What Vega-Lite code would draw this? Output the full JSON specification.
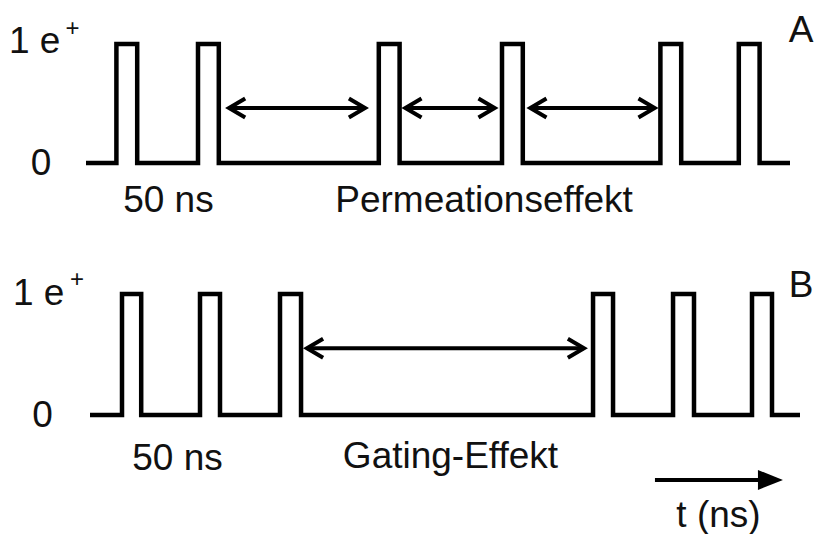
{
  "$schema": "https://vega.github.io/schema/vega-lite/v6.json",
  "background": "white",
  "padding": 0,
  "spacing": 0,
  "config": {"view": {"stroke": null}, "font": "Liberation Sans"},
  "vconcat": [
    {
      "width": 815,
      "height": 267,
      "layer": [
        {
          "data": {"values": [
            {"t": 0, "level": 0}, {"t": 19, "level": 1}, {"t": 32, "level": 0},
            {"t": 70, "level": 1}, {"t": 83, "level": 0},
            {"t": 183, "level": 1}, {"t": 196, "level": 0},
            {"t": 260, "level": 1}, {"t": 273, "level": 0},
            {"t": 359, "level": 1}, {"t": 372, "level": 0},
            {"t": 408, "level": 1}, {"t": 421, "level": 0},
            {"t": 440, "level": 0}
          ]},
          "mark": {"type": "line", "interpolate": "step-after", "color": "black", "strokeWidth": 4.5, "strokeJoin": "miter"},
          "encoding": {
            "x": {"field": "t", "type": "quantitative", "scale": {"domain": [-53.75, 455.625], "nice": false, "zero": false}, "axis": null},
            "y": {"field": "level", "type": "quantitative", "scale": {"domain": [-0.874, 1.37], "nice": false, "zero": false}, "axis": null}
          }
        },
        {
          "data": {"values": [
            {"t1": 89.4, "t2": 174.4, "level": 0.462},
            {"t1": 199.6, "t2": 255.4, "level": 0.462},
            {"t1": 277.7, "t2": 355.4, "level": 0.462}
          ]},
          "mark": {"type": "rule", "color": "black", "strokeWidth": 4},
          "encoding": {
            "x": {"field": "t1", "type": "quantitative", "scale": {"domain": [-53.75, 455.625], "nice": false, "zero": false}, "axis": null},
            "x2": {"field": "t2"},
            "y": {"field": "level", "type": "quantitative", "scale": {"domain": [-0.874, 1.37], "nice": false, "zero": false}, "axis": null}
          }
        },
        {
          "data": {"values": [
            {"t": 89.4, "level": 0.462, "dir": "left"}, {"t": 174.4, "level": 0.462, "dir": "right"},
            {"t": 199.6, "level": 0.462, "dir": "left"}, {"t": 255.4, "level": 0.462, "dir": "right"},
            {"t": 277.7, "level": 0.462, "dir": "left"}, {"t": 355.4, "level": 0.462, "dir": "right"}
          ]},
          "mark": {"type": "point", "filled": false, "stroke": "black", "strokeWidth": 4, "opacity": 1, "size": 361},
          "encoding": {
            "x": {"field": "t", "type": "quantitative", "scale": {"domain": [-53.75, 455.625], "nice": false, "zero": false}, "axis": null},
            "y": {"field": "level", "type": "quantitative", "scale": {"domain": [-0.874, 1.37], "nice": false, "zero": false}, "axis": null},
            "shape": {"field": "dir", "type": "nominal", "scale": {"domain": ["left", "right"], "range": ["M1.7,-1L0,0L1.7,1", "M-1.7,-1L0,0L-1.7,1"]}, "legend": null}
          }
        },
        {
          "data": {"values": [
            {"t": -32.1, "level": 0.924, "label": "1 e"},
            {"t": -28.1, "level": -0.101, "label": "0"},
            {"t": 51.5, "level": -0.409, "label": "50 ns"},
            {"t": 248.75, "level": -0.409, "label": "Permeationseffekt"},
            {"t": 447, "level": 1.017, "label": "A"}
          ]},
          "mark": {"type": "text", "fontSize": 37, "align": "center", "baseline": "alphabetic", "color": "#111111"},
          "encoding": {
            "x": {"field": "t", "type": "quantitative", "scale": {"domain": [-53.75, 455.625], "nice": false, "zero": false}, "axis": null},
            "y": {"field": "level", "type": "quantitative", "scale": {"domain": [-0.874, 1.37], "nice": false, "zero": false}, "axis": null},
            "text": {"field": "label"}
          }
        },
        {
          "data": {"values": [
            {"t": -8.4, "level": 1.067, "label": "+"}
          ]},
          "mark": {"type": "text", "fontSize": 24, "align": "center", "baseline": "alphabetic", "color": "#111111"},
          "encoding": {
            "x": {"field": "t", "type": "quantitative", "scale": {"domain": [-53.75, 455.625], "nice": false, "zero": false}, "axis": null},
            "y": {"field": "level", "type": "quantitative", "scale": {"domain": [-0.874, 1.37], "nice": false, "zero": false}, "axis": null},
            "text": {"field": "label"}
          }
        }
      ]
    },
    {
      "width": 815,
      "height": 267,
      "layer": [
        {
          "data": {"values": [
            {"t": 2.5, "level": 0}, {"t": 22.5, "level": 1}, {"t": 34.5, "level": 0},
            {"t": 71.25, "level": 1}, {"t": 83.75, "level": 0},
            {"t": 121.25, "level": 1}, {"t": 134.4, "level": 0},
            {"t": 316.9, "level": 1}, {"t": 329.4, "level": 0},
            {"t": 366.9, "level": 1}, {"t": 380, "level": 0},
            {"t": 416.25, "level": 1}, {"t": 428.75, "level": 0},
            {"t": 446.25, "level": 0}
          ]},
          "mark": {"type": "line", "interpolate": "step-after", "color": "black", "strokeWidth": 4.5, "strokeJoin": "miter"},
          "encoding": {
            "x": {"field": "t", "type": "quantitative", "scale": {"domain": [-53.75, 455.625], "nice": false, "zero": false}, "axis": null},
            "y": {"field": "level", "type": "quantitative", "scale": {"domain": [-1.0248, 1.1818], "nice": false, "zero": false}, "axis": null}
          }
        },
        {
          "data": {"values": [
            {"t1": 138.1, "t2": 311.25, "level": 0.551},
            {"t1": 355.6, "t2": 428, "level": -0.537}
          ]},
          "mark": {"type": "rule", "color": "black", "strokeWidth": 4},
          "encoding": {
            "x": {"field": "t1", "type": "quantitative", "scale": {"domain": [-53.75, 455.625], "nice": false, "zero": false}, "axis": null},
            "x2": {"field": "t2"},
            "y": {"field": "level", "type": "quantitative", "scale": {"domain": [-1.0248, 1.1818], "nice": false, "zero": false}, "axis": null}
          }
        },
        {
          "data": {"values": [
            {"t": 138.1, "level": 0.551, "dir": "left"}, {"t": 311.25, "level": 0.551, "dir": "right"}
          ]},
          "mark": {"type": "point", "filled": false, "stroke": "black", "strokeWidth": 4, "opacity": 1, "size": 361},
          "encoding": {
            "x": {"field": "t", "type": "quantitative", "scale": {"domain": [-53.75, 455.625], "nice": false, "zero": false}, "axis": null},
            "y": {"field": "level", "type": "quantitative", "scale": {"domain": [-1.0248, 1.1818], "nice": false, "zero": false}, "axis": null},
            "shape": {"field": "dir", "type": "nominal", "scale": {"domain": ["left", "right"], "range": ["M1.7,-1L0,0L1.7,1", "M-1.7,-1L0,0L-1.7,1"]}, "legend": null}
          }
        },
        {
          "data": {"values": [
            {"t": 435.6, "level": -0.537}
          ]},
          "mark": {"type": "point", "filled": true, "color": "black", "opacity": 1, "size": 400, "shape": "M0,0L-2.5,-1L-2.5,1Z"},
          "encoding": {
            "x": {"field": "t", "type": "quantitative", "scale": {"domain": [-53.75, 455.625], "nice": false, "zero": false}, "axis": null},
            "y": {"field": "level", "type": "quantitative", "scale": {"domain": [-1.0248, 1.1818], "nice": false, "zero": false}, "axis": null}
          }
        },
        {
          "data": {"values": [
            {"t": -29.6, "level": 0.909, "label": "1 e"},
            {"t": -27.2, "level": -0.099, "label": "0"},
            {"t": 57.2, "level": -0.455, "label": "50 ns"},
            {"t": 227.8, "level": -0.44, "label": "Gating-Effekt"},
            {"t": 447, "level": 0.975, "label": "B"},
            {"t": 395.3, "level": -0.925, "label": "t (ns)"}
          ]},
          "mark": {"type": "text", "fontSize": 37, "align": "center", "baseline": "alphabetic", "color": "#111111"},
          "encoding": {
            "x": {"field": "t", "type": "quantitative", "scale": {"domain": [-53.75, 455.625], "nice": false, "zero": false}, "axis": null},
            "y": {"field": "level", "type": "quantitative", "scale": {"domain": [-1.0248, 1.1818], "nice": false, "zero": false}, "axis": null},
            "text": {"field": "label"}
          }
        },
        {
          "data": {"values": [
            {"t": -5.6, "level": 1.055, "label": "+"}
          ]},
          "mark": {"type": "text", "fontSize": 24, "align": "center", "baseline": "alphabetic", "color": "#111111"},
          "encoding": {
            "x": {"field": "t", "type": "quantitative", "scale": {"domain": [-53.75, 455.625], "nice": false, "zero": false}, "axis": null},
            "y": {"field": "level", "type": "quantitative", "scale": {"domain": [-1.0248, 1.1818], "nice": false, "zero": false}, "axis": null},
            "text": {"field": "label"}
          }
        }
      ]
    }
  ]
}
